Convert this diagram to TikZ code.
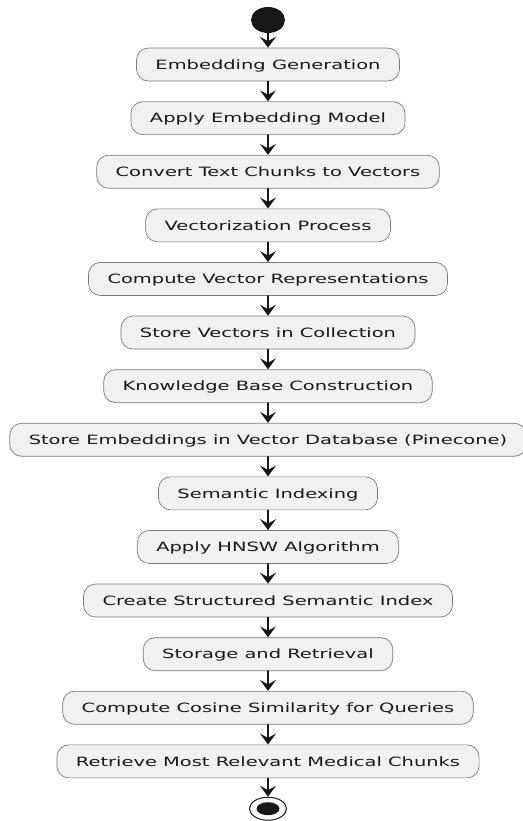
\documentclass[tikz,border=0pt]{standalone}
\usepackage{fontspec}
\usetikzlibrary{positioning,shapes.geometric,arrows.meta}
\newfontfamily\boxfont[FakeStretch=1.52]{DejaVu Sans}
\definecolor{boxfill}{HTML}{F1F1F1}
\definecolor{boxline}{HTML}{7A7A7A}
\definecolor{ink}{HTML}{181818}
\tikzset{actbox/.style={draw=boxline, line width=.7pt, fill=boxfill, rounded corners=12pt,
		minimum height=33pt, inner xsep=19pt, inner ysep=0pt, text height=11pt, text depth=1.7pt,
		font=\boxfont\fontsize{12.8pt}{15pt}\selectfont, text=ink}}
\begin{document}
\begin{tikzpicture}[x=1pt, y=1pt, line join=round, line cap=round, >={Stealth[length=11pt,width=16pt,inset=4.5pt]}]
			\useasboundingbox (0,0) rectangle (522,-821);
			\node[ellipse, fill=ink, inner sep=0, minimum width=34pt, minimum height=26pt] (s0) at (268,-20) {};
			\node[actbox, below=14.5pt of s0] (s1) {Embedding Generation};
			\foreach \txt [count=\i from 2, remember=\i as \j (initially 1)] in {Apply Embedding Model, Convert Text Chunks to Vectors, Vectorization Process, Compute Vector Representations, Store Vectors in Collection, Knowledge Base Construction, Store Embeddings in Vector Database (Pinecone), Semantic Indexing, Apply HNSW Algorithm, Create Structured Semantic Index, Storage and Retrieval, Compute Cosine Similarity for Queries, Retrieve Most Relevant Medical Chunks}
			\node[actbox, below=19.9pt of s\j] (s\i) {\txt};
			\node[ellipse, draw=ink, line width=1pt, inner sep=0, minimum width=37pt, minimum height=23pt, below=18.5pt of s14] (s15) {};
			\fill[ink] (s15.center) ellipse [x radius=11.5pt, y radius=6.5pt];
			\foreach \i [count=\j from 0] in {1,...,15} \draw[->, ink, line width=1.4pt] (s\j.south) -- (s\i.north);
		\end{tikzpicture}
\end{document}
